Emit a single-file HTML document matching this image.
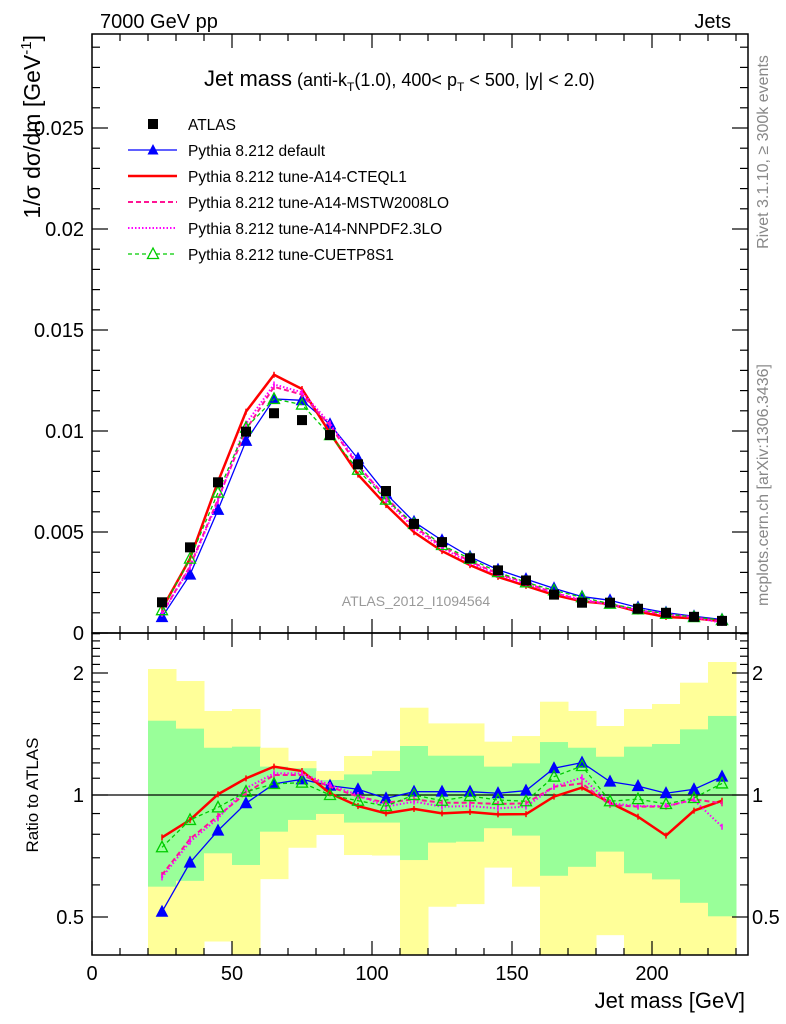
<!DOCTYPE html>
<html><head><meta charset="utf-8"><style>
body{margin:0;background:#fff;}
svg{display:block;font-family:"Liberation Sans",Arial,sans-serif;}
</style></head><body>
<svg id="c" width="786" height="1024" viewBox="0 0 786 1024" xmlns="http://www.w3.org/2000/svg"></svg>
<script>
const binCenters=[25,35,45,55,65,75,85,95,105,115,125,135,145,155,165,175,185,195,205,215,225];
const atlasValues=[0.00152,0.00424,0.00746,0.00997,0.01088,0.01054,0.0098,0.00835,0.00703,0.0054,0.0045,0.0037,0.0031,0.0026,0.0019,0.0015,0.0015,0.0012,0.0010,0.0008,0.0006];
const ratioDefault=[0.515,0.681,0.817,0.954,1.065,1.093,1.054,1.033,0.981,1.019,1.019,1.019,1.010,1.025,1.164,1.202,1.079,1.052,1.010,1.033,1.110];
const ratioCTEQ=[0.786,0.868,1.004,1.099,1.175,1.146,1.010,0.939,0.901,0.924,0.901,0.908,0.896,0.897,0.991,1.043,0.957,0.884,0.794,0.915,0.968];
const ratioMSTW=[0.635,0.779,0.888,1.010,1.120,1.120,1.048,0.991,0.957,0.976,0.957,0.957,0.950,0.954,1.048,1.068,0.945,0.936,0.936,0.976,0.954];
const ratioNNPDF=[0.626,0.767,0.876,1.039,1.131,1.131,1.058,1.0,0.936,0.963,0.936,0.939,0.927,0.936,1.048,1.105,0.954,0.939,0.940,0.972,0.835];
const ratioCUETP=[0.743,0.868,0.932,1.019,1.065,1.073,1.0,0.968,0.939,1.0,0.968,0.994,0.972,0.965,1.110,1.179,0.965,0.977,0.950,0.983,1.068];
const yellowHi=[2.046,1.911,1.612,1.630,1.308,1.213,1.146,1.248,1.286,1.642,1.502,1.502,1.354,1.398,1.699,1.612,1.480,1.630,1.677,1.893,2.129];
const greenHi=[1.525,1.458,1.308,1.316,1.175,1.164,1.089,1.124,1.146,1.321,1.250,1.250,1.175,1.197,1.351,1.308,1.243,1.316,1.336,1.452,1.567];
const greenLo=[0.594,0.614,0.718,0.672,0.812,0.868,0.898,0.855,0.855,0.691,0.763,0.767,0.828,0.794,0.632,0.665,0.725,0.641,0.619,0.542,0.502];
const yellowLo=[0.3,0.3,0.435,0.3,0.620,0.741,0.797,0.711,0.709,0.3,0.530,0.538,0.662,0.594,0.3,0.3,0.451,0.3,0.3,0.3,0.3];
const xTicks=[0,50,100,150,200];
const yTicks=[0,0.005,0.01,0.015,0.02,0.025];
const yTickLabels=["0","0.005","0.01","0.015","0.02","0.025"];
const rTicks=[0.5,1,2];
const rTickLabels=["0.5","1","2"];

const NS="http://www.w3.org/2000/svg";
const svg=document.getElementById('c');
const L=92,R=748,T=34,MB=633,RB=955;
const X=v=>L+v*2.8;
const Y=v=>MB-v*20200;
const RY=r=>795-122*Math.log2(r);
function el(tag,attrs,parent){const e=document.createElementNS(NS,tag);for(const k in attrs)e.setAttribute(k,attrs[k]);(parent||svg).appendChild(e);return e;}
function txt(s,x,y,size,attrs,parent){const t=el('text',Object.assign({x:x,y:y,'font-size':size},attrs||{}),parent);t.textContent=s;return t;}

const defs=el('defs',{});
const cp=el('clipPath',{id:'rclip'},defs);el('rect',{x:L,y:MB,width:R-L,height:RB-MB},cp);
const cp2=el('clipPath',{id:'mclip'},defs);el('rect',{x:L,y:T,width:R-L,height:MB-T},cp2);

const bandG=el('g',{'clip-path':'url(#rclip)'});


binCenters.forEach((c,i)=>{
  const x0=X(c-5),w=X(c+5)-X(c-5);
  const y1=el('rect',{x:x0,y:RY(yellowHi[i]),width:w+0.5,height:RY(yellowLo[i])-RY(yellowHi[i]),fill:'#ffff99'},bandG);
  
  
  const g1=el('rect',{x:x0,y:RY(greenHi[i]),width:w+0.5,height:RY(greenLo[i])-RY(greenHi[i]),fill:'#99ff99'},bandG);
  
  
});
const ul=el('line',{x1:L,x2:R,y1:RY(1),y2:RY(1),stroke:'#000','stroke-width':1.2});



const series=[
 {name:'default',r:ratioDefault,color:'#0000ff',w:1.3,dash:'',marker:'tri'},
 {name:'cteql1',r:ratioCTEQ,color:'#ff0000',w:2.5,dash:'',marker:'none'},
 {name:'mstw2008lo',r:ratioMSTW,color:'#ff1493',w:2,dash:'5,3',marker:'none'},
 {name:'nnpdf23lo',r:ratioNNPDF,color:'#ff00ff',w:2,dash:'1.5,2',marker:'none'},
 {name:'cuetp8s1',r:ratioCUETP,color:'#00cc00',w:1.3,dash:'4,3',marker:'otri'}
];
function tri(g,x,y,col,open,name){
  const p=el('polygon',{points:`${x},${y-6} ${x-5.5},${y+4.5} ${x+5.5},${y+4.5}`,fill:open?'none':col,stroke:col,'stroke-width':open?1.3:1},g);
  
  
}
function drawSeries(panel){
  series.forEach(s=>{
    const g=el('g',{'clip-path':panel==='main'?'url(#mclip)':'url(#rclip)'});
    
    
    const pts=binCenters.map((c,i)=>[X(c),panel==='main'?Y(s.r[i]*atlasValues[i]):RY(s.r[i])]);
    const pl=el('polyline',{points:pts.map(p=>p.join(',')).join(' '),fill:'none',stroke:s.color,'stroke-width':s.w,'stroke-dasharray':s.dash},g);
    
    
    pts.forEach(p=>{
      if(s.marker==='tri')tri(g,p[0],p[1],s.color,false,'point-'+s.name);
      else if(s.marker==='otri')tri(g,p[0],p[1],s.color,true,'point-'+s.name);
      else{const m=el('line',{x1:p[0],x2:p[0],y1:p[1]-3,y2:p[1]+3,stroke:s.color,'stroke-width':1.5},g);
        
        }
    });
  });
}
drawSeries('ratio');
drawSeries('main');
const dg=el('g',{'clip-path':'url(#mclip)'});


binCenters.forEach((c,i)=>{
  const r=el('rect',{x:X(c)-5,y:Y(atlasValues[i])-5,width:10,height:10,fill:'#000'},dg);
  
  
});

const f1=el('rect',{x:L,y:T,width:R-L,height:MB-T,fill:'none',stroke:'#000','stroke-width':1.5});


const f2=el('rect',{x:L,y:MB,width:R-L,height:RB-MB,fill:'none',stroke:'#000','stroke-width':1.5});



const tg=el('g',{stroke:'#000','stroke-width':1.2});


for(let v=0;v<=230;v+=10){
  const maj=v%50===0,len=maj?14:7;
  [[MB,-1],[RB,-1],[T,1],[MB,1]].forEach(([y,d])=>el('line',{x1:X(v),x2:X(v),y1:y,y2:y+d*len},tg));
}
xTicks.forEach(v=>{const t=txt(String(v),X(v),980,20,{'text-anchor':'middle'});
  
  });
for(let v=0;v<=0.0295;v+=0.001){
  const maj=Math.round(v*1000)%5===0,len=maj?16:8;
  el('line',{x1:L,x2:L+len,y1:Y(v),y2:Y(v)},tg);
  el('line',{x1:R,x2:R-len,y1:Y(v),y2:Y(v)},tg);
}
yTicks.forEach((v,i)=>{const t=txt(yTickLabels[i],84,Y(v)+7,20,{'text-anchor':'end'});
  
  });
for(let v=0.4;v<=2.55;v+=0.1){
  const vv=Math.round(v*10)/10;const y=RY(vv);if(y<MB||y>RB)continue;
  const maj=rTicks.includes(vv),len=maj?16:8;
  el('line',{x1:L,x2:L+len,y1:y,y2:y},tg);
  el('line',{x1:R,x2:R-len,y1:y,y2:y},tg);
}
rTicks.forEach((v,i)=>{
  const a=txt(rTickLabels[i],84,RY(v)+7,20,{'text-anchor':'end'});
  
  
  const b=txt(rTickLabels[i],752,RY(v)+7,20,{'text-anchor':'start'});
  
  
});
</script>
<div style="position:absolute;left:0;top:0;width:786px;height:1024px;pointer-events:none;">
<svg width="786" height="1024" style="font-family:'Liberation Sans',Arial,sans-serif">
<text x="100" y="28" font-size="20">7000 GeV pp</text>
<text x="731" y="28" font-size="20" text-anchor="end">Jets</text>
<text x="204" y="86" font-size="22">Jet mass<tspan font-size="18"> (anti-k</tspan><tspan font-size="12" dy="5">T</tspan><tspan font-size="18" dy="-5">(1.0), 400&lt; p</tspan><tspan font-size="12" dy="5">T</tspan><tspan font-size="18" dy="-5"> &lt; 500, |y| &lt; 2.0)</tspan></text>
<g font-size="15.5">
<rect x="148" y="119" width="10" height="10" fill="#000"/>
<text x="188" y="130">ATLAS</text>
<line x1="128" x2="177" y1="150" y2="150" stroke="#0000ff" stroke-width="1.3"/>
<polygon points="153,144 147.5,154.5 158.5,154.5" fill="#0000ff"/>
<text x="188" y="156">Pythia 8.212 default</text>
<line x1="128" x2="177" y1="176" y2="176" stroke="#ff0000" stroke-width="2.5"/>
<text x="188" y="182">Pythia 8.212 tune-A14-CTEQL1</text>
<line x1="128" x2="177" y1="202" y2="202" stroke="#ff1493" stroke-width="2" stroke-dasharray="5,3"/>
<text x="188" y="208">Pythia 8.212 tune-A14-MSTW2008LO</text>
<line x1="128" x2="177" y1="228" y2="228" stroke="#ff00ff" stroke-width="2" stroke-dasharray="1.5,2"/>
<text x="188" y="234">Pythia 8.212 tune-A14-NNPDF2.3LO</text>
<line x1="128" x2="177" y1="254" y2="254" stroke="#00cc00" stroke-width="1.3" stroke-dasharray="4,3"/>
<polygon points="153,248 147.5,258.5 158.5,258.5" fill="#fff" stroke="#00cc00" stroke-width="1.3"/>
<text x="188" y="260">Pythia 8.212 tune-CUETP8S1</text>
</g>
<text x="416" y="606" font-size="14" fill="#999" text-anchor="middle">ATLAS_2012_I1094564</text>
<text transform="translate(768,152) rotate(-90)" font-size="16" fill="#888" text-anchor="middle">Rivet 3.1.10, ≥ 300k events</text>
<text transform="translate(768,485) rotate(-90)" font-size="16" fill="#888" text-anchor="middle">mcplots.cern.ch [arXiv:1306.3436]</text>
<text transform="translate(40,35) rotate(-90)" font-size="23" text-anchor="end">1/σ dσ/dm [GeV<tspan font-size="15" dy="-9">-1</tspan><tspan dy="9">]</tspan></text>
<text transform="translate(38,795) rotate(-90)" font-size="17" text-anchor="middle">Ratio to ATLAS</text>
<text x="745" y="1008" font-size="22" text-anchor="end">Jet mass [GeV]</text>
</svg>
</div>
</body></html>
